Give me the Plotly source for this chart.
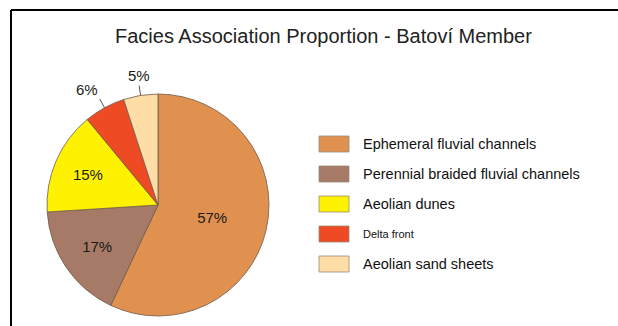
import math
import plotly.graph_objects as go

# Facies association proportions, Batoví Member
categories = [
    "Ephemeral fluvial channels",
    "Perennial braided fluvial channels",
    "Aeolian dunes",
    "Delta front",
    "Aeolian sand sheets",
]
percentages = [57, 17, 15, 6, 5]
colors = ["#E09150", "#A67A66", "#FFF200", "#EE4A24", "#FFDDA6"]
label_positions = ["inside", "inside", "inside", "outside", "outside"]
legend_font_sizes = [14.5, 14.5, 14.5, 11, 14.5]

W, H = 618, 326
CX, CY, R = 158, 205, 111  # pie centre and radius in pixels
FONT = "Liberation Sans, Arial"

fig = go.Figure(
    go.Pie(
        labels=categories,
        values=percentages,
        sort=False,
        direction="clockwise",
        rotation=0,
        marker=dict(colors=colors, line=dict(color="#6e5c4c", width=0.8)),
        texttemplate="%{value}%",
        # small slices get labels with leader lines instead
        textposition=[p if p == "inside" else "none" for p in label_positions],
        insidetextorientation="horizontal",
        textfont=dict(family=FONT, size=15, color="#1a1a1a"),
        showlegend=False,
        hoverinfo="label+percent",
        domain=dict(
            x=[(CX - R) / W, (CX + R) / W],
            y=[(H - CY - R) / H, (H - CY + R) / H],
        ),
    )
)

shapes = []
annotations = []


def px(x, y):
    return x / W, 1 - y / H


# outside labels with short leader lines at each slice's mid-angle
total = sum(percentages)
cum = 0
for v, pos in zip(percentages, label_positions):
    mid = 2 * math.pi * (cum + v / 2) / total
    cum += v
    if pos != "outside":
        continue
    s, c = math.sin(mid), math.cos(mid)
    x0, y0 = px(CX + R * s, CY - R * c)
    x1, y1 = px(CX + (R + 10) * s, CY - (R + 10) * c)
    shapes.append(dict(type="line", xref="paper", yref="paper",
                       x0=x0, y0=y0, x1=x1, y1=y1,
                       line=dict(color="#555555", width=1)))
    tx, ty = px(CX + (R + 9) * s, CY - (R + 9) * c)
    xa = "center" if abs(s) < 0.3 else ("right" if s < 0 else "left")
    annotations.append(dict(text=f"{v}%", xref="paper", yref="paper",
                            x=tx, y=ty, xanchor=xa, yanchor="bottom",
                            showarrow=False,
                            font=dict(family=FONT, size=15, color="#1a1a1a")))

# frame along the top and left edges
shapes.append(dict(type="line", xref="paper", yref="paper",
                   x0=11 / W, y0=1 - 10 / H, x1=1.0, y1=1 - 10 / H,
                   line=dict(color="black", width=2)))
shapes.append(dict(type="line", xref="paper", yref="paper",
                   x0=11 / W, y0=1 - 10 / H, x1=11 / W, y1=0,
                   line=dict(color="black", width=2)))

# legend: coloured boxes with their labels
LX, LY0, STEP = 319, 136, 30
for i, (name, col, fs) in enumerate(zip(categories, colors, legend_font_sizes)):
    top = LY0 + i * STEP
    shapes.append(dict(type="rect", xref="paper", yref="paper",
                       x0=LX / W, x1=(LX + 30) / W,
                       y0=1 - (top + 16) / H, y1=1 - top / H,
                       fillcolor=col, line=dict(color="#9a8a7a", width=0.8)))
    annotations.append(dict(text=name, xref="paper", yref="paper",
                            x=(LX + 42) / W, y=1 - (top + 8) / H,
                            xanchor="left", yanchor="middle", showarrow=False,
                            font=dict(family=FONT, size=fs, color="#111111")))

annotations.append(dict(text="Facies Association Proportion - Batoví Member",
                        xref="paper", yref="paper", x=323.5 / W, y=1 - 36 / H,
                        xanchor="center", yanchor="middle", showarrow=False,
                        font=dict(family=FONT, size=20, color="#222222")))

fig.update_layout(
    width=W, height=H,
    margin=dict(l=0, r=0, t=0, b=0),
    paper_bgcolor="white", plot_bgcolor="white",
    shapes=shapes, annotations=annotations,
)

fig.write_html("out.html")
